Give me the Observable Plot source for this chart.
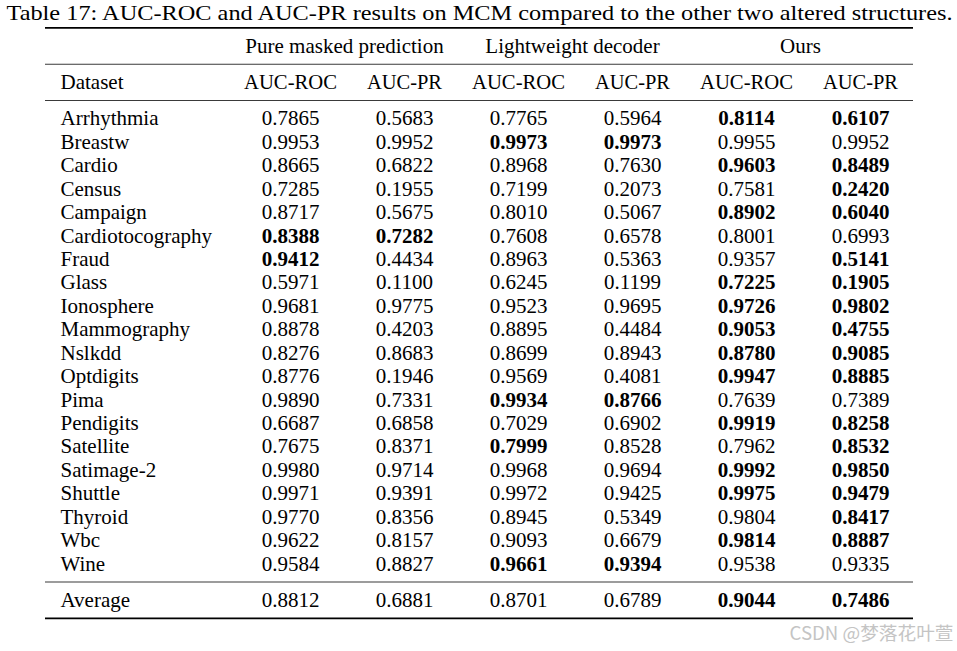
<!DOCTYPE html>
<html>
<head>
<meta charset="utf-8">
<script src="https://cdn.jsdelivr.net/npm/d3@7"></script>
<script src="https://cdn.jsdelivr.net/npm/@observablehq/plot@0.6"></script>
<style>
  html, body { margin: 0; padding: 0; background: #fff; }
</style>
</head>
<body>
<div id="chart"></div>
<script>
const title = "Table 17: AUC-ROC and AUC-PR results on MCM compared to the other two altered structures.";
const groups = ["Pure masked prediction", "Lightweight decoder", "Ours"];
const columns = ["pureROC", "purePR", "lightROC", "lightPR", "oursROC", "oursPR"];
const columnLabels = ["AUC-ROC", "AUC-PR", "AUC-ROC", "AUC-PR", "AUC-ROC", "AUC-PR"];
const firstHeader = "Dataset";
const averageLabel = "Average";
const watermark = "CSDN @梦落花叶萱";

const datasets = ["Arrhythmia","Breastw","Cardio","Census","Campaign","Cardiotocography","Fraud","Glass","Ionosphere","Mammography","Nslkdd","Optdigits","Pima","Pendigits","Satellite","Satimage-2","Shuttle","Thyroid","Wbc","Wine"];

const pureROC  = [0.7865,0.9953,0.8665,0.7285,0.8717,0.8388,0.9412,0.5971,0.9681,0.8878,0.8276,0.8776,0.9890,0.6687,0.7675,0.9980,0.9971,0.9770,0.9622,0.9584];
const purePR   = [0.5683,0.9952,0.6822,0.1955,0.5675,0.7282,0.4434,0.1100,0.9775,0.4203,0.8683,0.1946,0.7331,0.6858,0.8371,0.9714,0.9391,0.8356,0.8157,0.8827];
const lightROC = [0.7765,0.9973,0.8968,0.7199,0.8010,0.7608,0.8963,0.6245,0.9523,0.8895,0.8699,0.9569,0.9934,0.7029,0.7999,0.9968,0.9972,0.8945,0.9093,0.9661];
const lightPR  = [0.5964,0.9973,0.7630,0.2073,0.5067,0.6578,0.5363,0.1199,0.9695,0.4484,0.8943,0.4081,0.8766,0.6902,0.8528,0.9694,0.9425,0.5349,0.6679,0.9394];
const oursROC  = [0.8114,0.9955,0.9603,0.7581,0.8902,0.8001,0.9357,0.7225,0.9726,0.9053,0.8780,0.9947,0.7639,0.9919,0.7962,0.9992,0.9975,0.9804,0.9814,0.9538];
const oursPR   = [0.6107,0.9952,0.8489,0.2420,0.6040,0.6993,0.5141,0.1905,0.9802,0.4755,0.9085,0.8885,0.7389,0.8258,0.8532,0.9850,0.9479,0.8417,0.8887,0.9335];
const averages = [0.8812,0.6881,0.8701,0.6789,0.9044,0.7486];

// cells printed in bold in the table (per column)
const boldPureROC  = ["Cardiotocography","Fraud"];
const boldPurePR   = ["Cardiotocography"];
const boldLightROC = ["Breastw","Pima","Satellite","Wine"];
const boldLightPR  = ["Breastw","Pima","Wine"];
const boldOursROC  = ["Arrhythmia","Cardio","Campaign","Glass","Ionosphere","Mammography","Nslkdd","Optdigits","Pendigits","Satimage-2","Shuttle","Wbc","Average"];
const boldOursPR   = ["Arrhythmia","Cardio","Census","Campaign","Fraud","Glass","Ionosphere","Mammography","Nslkdd","Optdigits","Pendigits","Satellite","Satimage-2","Shuttle","Thyroid","Wbc","Average"];

// ---- build table ----
const values = {pureROC, purePR, lightROC, lightPR, oursROC, oursPR};
const bolds = {pureROC: boldPureROC, purePR: boldPurePR, lightROC: boldLightROC, lightPR: boldLightPR, oursROC: boldOursROC, oursPR: boldOursPR};
const fmt = d3.format(".4f");

// vertical layout in "row" units
const gap = 1.55;          // gap between sections (in rows)
const pad = 0.78;          // distance from outer rules to first/last row
const yGroup = 0;
const yHeader = gap;
const yRow = i => 2 * gap + i;
const yAvg = yRow(datasets.length - 1) + gap;

const rowsData = datasets.map((name, i) => ({name, y: yRow(i), index: i}));
const cells = [];
for (const r of rowsData) {
  for (const c of columns) {
    cells.push({col: c, y: r.y, label: fmt(values[c][r.index]), bold: bolds[c].includes(r.name)});
  }
}
columns.forEach((c, j) => {
  cells.push({col: c, y: yAvg, label: fmt(averages[j]), bold: bolds[c].includes(averageLabel)});
});

const thickRules = [yGroup - pad, yAvg + pad];
const thinRules = [(yGroup + yHeader) / 2, (yHeader + yRow(0)) / 2, (yRow(datasets.length - 1) + yAvg) / 2];

const serif = "Liberation Serif";
const fs = 21;
const T = {fontSize: fs, fontFamily: serif, fill: "black"};

const plot = Plot.plot({
  width: 957,
  height: 651,
  marginLeft: 45,
  marginRight: 44,
  marginTop: 0,
  marginBottom: 0,
  style: {fontFamily: serif, fontSize: fs + "px", background: "white", color: "black"},
  x: {type: "point", domain: columns, range: [288, 861], padding: 0, axis: null},
  y: {type: "linear", domain: [0, yAvg], range: [45.6, 599.6], axis: null},
  marks: [
    Plot.ruleY(thickRules, {y: d => d, stroke: "black", strokeWidth: 1.8}),
    Plot.ruleY(thinRules, {y: d => d, stroke: "#3a3a3a", strokeWidth: 1.1}),
    // title
    Plot.text([title], {frameAnchor: "top", lineAnchor: "top", dy: 5, text: d => d, ...T}),
    // group headers
    Plot.text(groups, {x: (d, i) => columns[2 * i], y: () => yGroup, dx: 54, text: d => d, ...T}),
    // column header
    Plot.text([firstHeader], {frameAnchor: "left", y: () => yHeader, dx: 15, textAnchor: "start", text: d => d, ...T}),
    Plot.text(columnLabels, {x: (d, i) => columns[i], y: () => yHeader, text: d => d, ...T}),
    // dataset names
    Plot.text(rowsData, {frameAnchor: "left", y: "y", dx: 15, textAnchor: "start", text: "name", ...T}),
    Plot.text([averageLabel], {frameAnchor: "left", y: () => yAvg, dx: 15, textAnchor: "start", text: d => d, ...T}),
    // values
    Plot.text(cells.filter(d => !d.bold), {x: "col", y: "y", text: "label", ...T}),
    Plot.text(cells.filter(d => d.bold), {x: "col", y: "y", text: "label", fontWeight: "bold", ...T}),
    // watermark
    Plot.text([watermark], {frameAnchor: "bottom-right", dx: 40, dy: -12, textAnchor: "end", text: d => d, fontSize: 18, fontFamily: "Noto Sans CJK SC", fill: "#c4c4c4"})
  ]
});

document.getElementById("chart").appendChild(plot);

d3.select(plot).selectAll("text")
  .filter(function () { return this.textContent === title; })
  .attr("textLength", 946)
  .attr("lengthAdjust", "spacingAndGlyphs");
d3.select(plot).selectAll("text")
  .filter(function () { return columnLabels.includes(this.textContent); })
  .each(function () { this.setAttribute("textLength", this.textContent === "AUC-ROC" ? 93 : 75); this.setAttribute("lengthAdjust", "spacingAndGlyphs"); });
d3.select(plot).selectAll("text")
  .filter(function () { return this.textContent === watermark; })
  .attr("textLength", 164)
  .attr("lengthAdjust", "spacingAndGlyphs");
</script>
</body>
</html>
